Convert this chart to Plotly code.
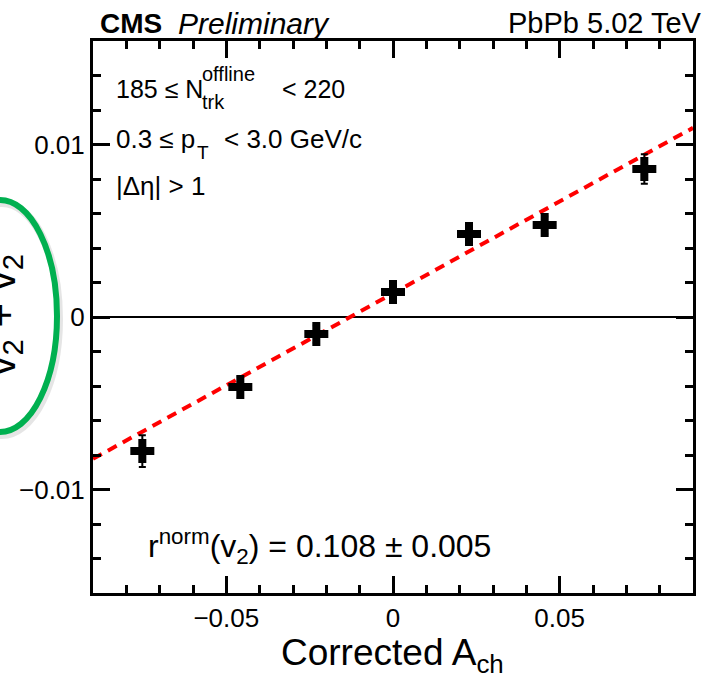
import plotly.graph_objects as go

# Charge-asymmetry dependence of the normalized v2 difference
a_ch = [-0.0752, -0.0458, -0.0230, 0.0000, 0.0228, 0.0455, 0.0754]
dv2 = [-0.00777, -0.00406, -0.00099, 0.00145, 0.00481, 0.00533, 0.00858]
dv2_err = [0.00092, 0.00060, 0.00050, 0.00050, 0.00050, 0.00050, 0.00085]

# Linear fit parameters
fit_slope = 0.1066
fit_intercept = 0.00137

x_range = [-0.09, 0.09]
y_range = [-0.016, 0.016]
x_tickvals = [-0.05, 0.0, 0.05]
x_ticktext = ["\u22120.05", "0", "0.05"]
y_tickvals = [-0.01, 0.0, 0.01]
y_ticktext = ["\u22120.01", "0", "0.01"]

W, H = 711, 683
L, R, T, B = 93, 18, 41, 90
FONT = "Liberation Sans, Arial, Helvetica, sans-serif"


def px(xp):
    return (xp - L) / (W - L - R)


def py(yp):
    return (H - B - yp) / (H - T - B)


fit_x = list(x_range)
fit_y = [fit_intercept + fit_slope * v for v in fit_x]

fig = go.Figure()
fig.add_trace(go.Scatter(
    x=fit_x, y=fit_y, mode="lines",
    line=dict(color="#ff0000", width=4, dash="10px,7px"),
    hoverinfo="skip", showlegend=False,
))
fig.add_trace(go.Scatter(
    x=a_ch, y=dv2, mode="markers",
    marker=dict(symbol="cross", size=20, color="black", line=dict(width=0)),
    error_y=dict(type="data", array=dv2_err, visible=True,
                 color="black", thickness=2, width=3.5),
    showlegend=False,
))

axis_common = dict(
    showline=True, linecolor="black", linewidth=3, mirror="ticks",
    ticks="inside", ticklen=17, tickwidth=2.5, tickcolor="black",
    showgrid=False, tickfont=dict(family=FONT, size=26, color="black"),
    tickmode="array",
)

fig.update_xaxes(
    range=x_range, tickvals=x_tickvals, ticktext=x_ticktext, zeroline=False,
    minor=dict(dtick=0.01, tick0=0, ticks="inside", ticklen=8,
               tickwidth=2.5, tickcolor="black", showgrid=False),
    **axis_common,
)
fig.update_yaxes(
    range=y_range, tickvals=y_tickvals, ticktext=y_ticktext,
    zeroline=True, zerolinecolor="black", zerolinewidth=2,
    minor=dict(dtick=0.002, tick0=0, ticks="inside", ticklen=8,
               tickwidth=2.5, tickcolor="black", showgrid=False),
    **axis_common,
)

ann = []


def text(xp, yp, s, size, anchor="left", yanchor="middle", angle=0):
    ann.append(dict(
        xref="paper", yref="paper", x=px(xp), y=py(yp), text=s,
        showarrow=False, xanchor=anchor, yanchor=yanchor, textangle=angle,
        font=dict(family=FONT, size=size, color="black"),
    ))


text(98, 24, "<b>CMS</b>", 28)
text(176, 24, "<i>Preliminary</i>", 30)
text(704, 23, "PbPb 5.02 TeV", 29, anchor="right")

# Multiplicity class, with stacked super/subscript on N
text(114, 89, "185 \u2264 N", 25)
text(200, 74, "offline", 20)
text(200, 102, "trk", 20)
text(280, 89, "< 220", 25)

# Transverse-momentum range
text(114, 139, "0.3 \u2264 p", 26)
text(195, 152, "T", 19)
text(222, 139, "< 3.0 GeV/c", 26)

text(114, 186, "|\u0394\u03b7| > 1", 26)
text(146, 546, "r<sup>norm</sup>(v<sub>2</sub>) = 0.108 \u00b1 0.005", 32)

text(392, 655, "Corrected A<sub>ch</sub>", 37, anchor="center")

# Rotated denominator of the y-axis title, circled
text(31, 315, "v<sub>2</sub> + v<sub>2</sub>", 42, anchor="right", angle=-90)

shapes = [
    dict(type="circle", xref="paper", yref="paper",
         x0=px(-57 + 2), x1=px(57 + 2), y0=py(316 + 116 + 3), y1=py(316 - 116 + 3),
         line=dict(color="rgba(0,0,0,0.10)", width=8), layer="above"),
    dict(type="circle", xref="paper", yref="paper",
         x0=px(-57), x1=px(57), y0=py(316 + 116), y1=py(316 - 116),
         line=dict(color="#00b050", width=6), layer="above"),
]

fig.update_layout(
    width=W, height=H, margin=dict(l=L, r=R, t=T, b=B, pad=0),
    paper_bgcolor="white", plot_bgcolor="white",
    annotations=ann, shapes=shapes,
    font=dict(family=FONT, color="black"),
)

fig.write_html("out.html")
